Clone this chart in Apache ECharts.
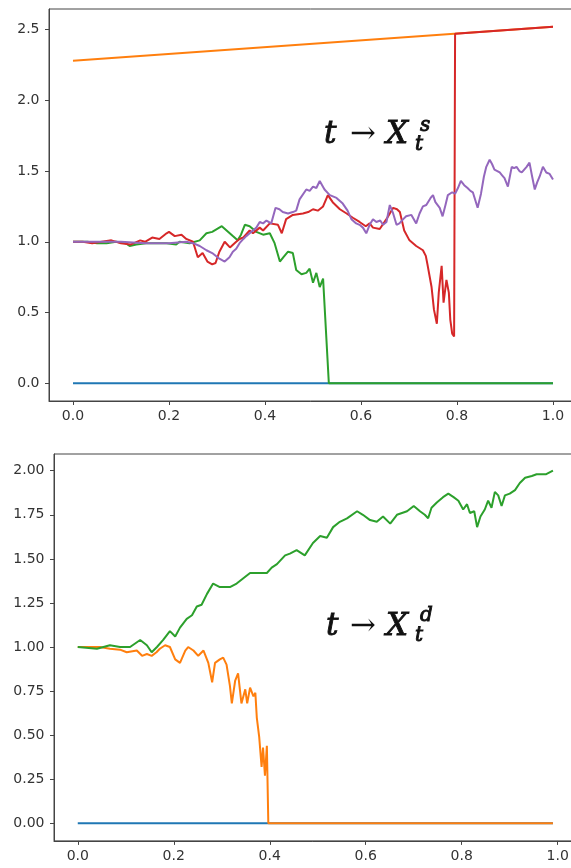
<!DOCTYPE html>
<html>
<head>
<meta charset="utf-8">
<script src="https://cdn.jsdelivr.net/npm/echarts@6/dist/echarts.min.js"></script>
<style>html,body{margin:0;padding:0;background:#fff;}#c{width:571px;height:868px;}</style>
</head>
<body>
<div id="c"></div>
<script>
// ---------- tick labels ----------
const xTicks = [0, 0.2, 0.4, 0.6, 0.8, 1.0];
const topYTicks = [0, 0.5, 1.0, 1.5, 2.0, 2.5];
const botYTicks = [0, 0.25, 0.5, 0.75, 1.0, 1.25, 1.5, 1.75, 2.0];

// ---------- top panel: t -> X_t^s ----------
const topBlue = [[0, 0], [1, 0]];
const topOrange = [[0, 2.28], [1, 2.52]];
const topGreen = [[0,1.0],[0.03,1.0],[0.05,0.99],[0.07,0.99],[0.09,1.0],[0.11,0.99],[0.118,0.97],[0.132,0.98],[0.152,0.99],[0.173,0.99],[0.195,0.99],[0.215,0.98],[0.222,1.0],[0.243,0.99],[0.264,1.01],[0.278,1.06],[0.29,1.07],[0.31,1.11],[0.32,1.08],[0.333,1.04],[0.343,1.01],[0.35,1.05],[0.358,1.12],[0.368,1.11],[0.382,1.07],[0.396,1.05],[0.41,1.06],[0.42,0.99],[0.431,0.86],[0.438,0.89],[0.448,0.93],[0.458,0.92],[0.465,0.8],[0.476,0.77],[0.486,0.78],[0.493,0.81],[0.5,0.71],[0.507,0.78],[0.514,0.68],[0.521,0.74],[0.533,0],[1.0,0]];
const topRed = [[0,1.0],[0.02,1.0],[0.04,0.99],[0.06,1.0],[0.08,1.01],[0.1,0.99],[0.12,0.98],[0.14,1.01],[0.15,1.0],[0.165,1.03],[0.18,1.02],[0.195,1.06],[0.2,1.07],[0.212,1.04],[0.226,1.05],[0.236,1.02],[0.25,1.0],[0.26,0.89],[0.27,0.92],[0.28,0.86],[0.29,0.84],[0.297,0.85],[0.305,0.93],[0.316,1.0],[0.327,0.96],[0.34,1.0],[0.347,1.02],[0.355,1.03],[0.368,1.08],[0.375,1.06],[0.389,1.1],[0.396,1.08],[0.41,1.13],[0.427,1.12],[0.435,1.06],[0.444,1.16],[0.458,1.19],[0.479,1.2],[0.49,1.21],[0.5,1.23],[0.51,1.22],[0.521,1.25],[0.531,1.33],[0.541,1.28],[0.556,1.23],[0.57,1.2],[0.583,1.17],[0.597,1.14],[0.61,1.11],[0.618,1.13],[0.625,1.1],[0.639,1.09],[0.653,1.16],[0.667,1.24],[0.675,1.23],[0.681,1.21],[0.69,1.08],[0.701,1.01],[0.715,0.97],[0.729,0.94],[0.735,0.9],[0.739,0.83],[0.747,0.68],[0.752,0.52],[0.758,0.42],[0.762,0.64],[0.768,0.83],[0.772,0.57],[0.778,0.73],[0.783,0.64],[0.786,0.45],[0.79,0.35],[0.794,0.33],[0.796,2.471],[1.0,2.52]];
const topPurple = [[0,1.0],[0.05,1.0],[0.1,1.0],[0.15,0.99],[0.2,0.99],[0.236,1.0],[0.25,0.99],[0.264,0.97],[0.278,0.94],[0.29,0.92],[0.305,0.88],[0.316,0.86],[0.326,0.89],[0.333,0.93],[0.34,0.95],[0.347,0.99],[0.355,1.02],[0.361,1.04],[0.368,1.06],[0.375,1.08],[0.382,1.1],[0.389,1.14],[0.396,1.13],[0.403,1.15],[0.413,1.13],[0.422,1.24],[0.43,1.23],[0.437,1.21],[0.448,1.2],[0.458,1.21],[0.465,1.22],[0.472,1.3],[0.486,1.37],[0.493,1.36],[0.5,1.39],[0.507,1.38],[0.514,1.43],[0.524,1.37],[0.535,1.33],[0.549,1.31],[0.562,1.27],[0.572,1.22],[0.58,1.16],[0.59,1.13],[0.597,1.12],[0.604,1.1],[0.611,1.06],[0.618,1.12],[0.625,1.16],[0.632,1.14],[0.64,1.15],[0.646,1.12],[0.653,1.14],[0.66,1.26],[0.667,1.2],[0.674,1.12],[0.68,1.13],[0.688,1.16],[0.694,1.18],[0.705,1.19],[0.715,1.13],[0.722,1.2],[0.729,1.25],[0.736,1.26],[0.745,1.31],[0.75,1.33],[0.755,1.28],[0.764,1.24],[0.77,1.18],[0.776,1.26],[0.781,1.33],[0.79,1.35],[0.796,1.34],[0.802,1.38],[0.808,1.43],[0.815,1.4],[0.822,1.38],[0.828,1.36],[0.833,1.35],[0.843,1.24],[0.85,1.34],[0.856,1.46],[0.861,1.53],[0.868,1.58],[0.873,1.55],[0.878,1.51],[0.884,1.5],[0.889,1.49],[0.894,1.47],[0.899,1.45],[0.906,1.39],[0.91,1.46],[0.914,1.53],[0.919,1.52],[0.924,1.53],[0.93,1.5],[0.935,1.49],[0.94,1.51],[0.945,1.53],[0.951,1.56],[0.956,1.47],[0.962,1.37],[0.967,1.42],[0.972,1.46],[0.979,1.53],[0.986,1.49],[0.993,1.48],[1.0,1.44]];

// ---------- bottom panel: t -> X_t^d ----------
const botBlue = [[0, 0], [0.99, 0]];
const botOrange = [[0,1.0],[0.03,1.0],[0.046,1.0],[0.067,0.99],[0.088,0.985],[0.102,0.97],[0.123,0.98],[0.134,0.95],[0.144,0.96],[0.154,0.95],[0.164,0.97],[0.171,0.99],[0.182,1.01],[0.192,1.0],[0.203,0.93],[0.213,0.91],[0.224,0.98],[0.23,1.0],[0.241,0.98],[0.251,0.95],[0.262,0.98],[0.272,0.91],[0.28,0.8],[0.286,0.91],[0.296,0.93],[0.303,0.94],[0.31,0.9],[0.317,0.78],[0.321,0.68],[0.328,0.81],[0.334,0.85],[0.341,0.68],[0.349,0.76],[0.353,0.68],[0.359,0.77],[0.366,0.72],[0.37,0.74],[0.373,0.6],[0.378,0.49],[0.383,0.32],[0.386,0.43],[0.39,0.27],[0.394,0.44],[0.397,0],[0.99,0]];
const botGreen = [[0,1.0],[0.04,0.99],[0.067,1.01],[0.088,1.0],[0.109,1.0],[0.13,1.04],[0.144,1.01],[0.154,0.97],[0.165,1.0],[0.178,1.04],[0.192,1.09],[0.203,1.06],[0.213,1.11],[0.227,1.16],[0.238,1.18],[0.248,1.23],[0.258,1.24],[0.269,1.3],[0.282,1.36],[0.296,1.34],[0.317,1.34],[0.331,1.36],[0.345,1.39],[0.359,1.42],[0.376,1.42],[0.394,1.42],[0.404,1.45],[0.415,1.47],[0.432,1.52],[0.442,1.53],[0.456,1.55],[0.473,1.52],[0.49,1.59],[0.505,1.63],[0.519,1.62],[0.532,1.68],[0.546,1.71],[0.561,1.73],[0.582,1.77],[0.594,1.75],[0.609,1.72],[0.623,1.71],[0.636,1.74],[0.651,1.7],[0.665,1.75],[0.686,1.77],[0.7,1.8],[0.713,1.77],[0.723,1.75],[0.73,1.73],[0.737,1.79],[0.748,1.82],[0.761,1.85],[0.772,1.87],[0.783,1.85],[0.793,1.83],[0.803,1.78],[0.811,1.81],[0.817,1.76],[0.826,1.77],[0.832,1.68],[0.839,1.74],[0.848,1.78],[0.855,1.83],[0.862,1.79],[0.869,1.88],[0.876,1.86],[0.883,1.8],[0.89,1.86],[0.9,1.87],[0.911,1.89],[0.921,1.93],[0.932,1.96],[0.946,1.97],[0.956,1.98],[0.976,1.98],[0.99,2.0]];

const C = {blue:'#1f77b4', orange:'#ff7f0e', green:'#2ca02c', red:'#d62728', purple:'#9467bd'};
const AX = '#444';
const LBL = {color:'#333', fontSize:14, fontFamily:'DejaVu Sans'};

function xAxis(gi, min, max) {
  return {
    type:'value', gridIndex:gi, min:min, max:max,
    axisLine:{show:true, onZero:false, lineStyle:{color:AX, width:1}},
    axisTick:{show:true, length:4, inside:false, customValues:xTicks, lineStyle:{color:AX}},
    axisLabel:Object.assign({customValues:xTicks, margin:8, formatter:v=>v.toFixed(1)}, LBL),
    splitLine:{show:false}
  };
}
function yAxis(gi, min, max, ticks, dec) {
  return {
    type:'value', gridIndex:gi, min:min, max:max,
    axisLine:{show:true, onZero:false, lineStyle:{color:AX, width:1}},
    axisTick:{show:true, length:4, inside:false, customValues:ticks, lineStyle:{color:AX}},
    axisLabel:Object.assign({customValues:ticks, margin:9.5, formatter:v=>v.toFixed(dec)}, LBL),
    splitLine:{show:false}
  };
}
function line(data, color, gi) {
  return {type:'line', data:data, xAxisIndex:gi, yAxisIndex:gi, showSymbol:false, symbol:'none',
    lineStyle:{color:color, width:2}, itemStyle:{color:color}, animation:false, z:2};
}

const serif = '"DejaVu Serif", serif';
function txt(s, x, y, size, italic, heavy) {
  return {type:'text', x:x, y:y, z:100, style:{text:s, fill:'#111', fontSize:size, fontFamily:serif,
    fontWeight:'normal', fontStyle: italic ? 'italic' : 'normal', textVerticalAlign:'middle', textAlign:'left',
    stroke: heavy ? '#111' : null, lineWidth: heavy ? 0.9 : 0}};
}

const chart = echarts.init(document.getElementById('c'), null, {renderer:'canvas'});
chart.setOption({
  animation:false,
  backgroundColor:'#fff',
  grid:[
    {left:49, top:9, width:528, height:392, show:true, borderColor:AX, borderWidth:1, containLabel:false, outerBoundsMode:'none'},
    {left:54, top:454, width:522.7, height:386.9, show:true, borderColor:AX, borderWidth:1, containLabel:false, outerBoundsMode:'none'}
  ],
  xAxis:[xAxis(0, -0.05, 1.05), xAxis(1, -0.0495, 1.0395)],
  yAxis:[yAxis(0, -0.126, 2.646, topYTicks, 1), yAxis(1, -0.0998, 2.0948, botYTicks, 2)],
  series:[
    line(topBlue, C.blue, 0), line(topOrange, C.orange, 0), line(topGreen, C.green, 0),
    line(topRed, C.red, 0), line(topPurple, C.purple, 0),
    line(botBlue, C.blue, 1), line(botOrange, C.orange, 1), line(botGreen, C.green, 1)
  ],
  graphic:[
    txt('t', 324, 135, 31, true, true), txt('→', 350, 135, 31, false, false), txt('X', 386, 135, 31, true, true),
    txt('s', 420, 126, 20, true, true), txt('t', 415, 145, 20, true, true),
    txt('t', 326, 627, 31, true, true), txt('→', 350, 627, 31, false, false), txt('X', 386, 627, 31, true, true),
    txt('d', 420, 616, 20, true, true), txt('t', 415, 636, 20, true, true)
  ]
});
</script>
</body>
</html>
